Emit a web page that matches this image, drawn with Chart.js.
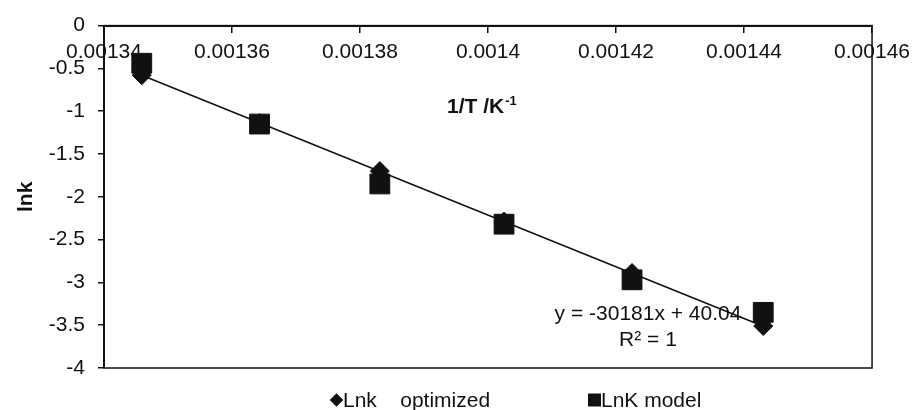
<!DOCTYPE html>
<html>
<head>
<meta charset="utf-8">
<script src="https://cdn.jsdelivr.net/npm/chart.js@4/dist/chart.umd.min.js"></script>
<style>
  html, body { margin: 0; padding: 0; background: #fff; }
  #wrap { width: 918px; height: 410px; position: relative; }
</style>
</head>
<body>
<div id="wrap"><canvas id="c"></canvas></div>
<script>
// ---- data ----
const invT = [0.0013459, 0.0013643, 0.0013831, 0.0014025, 0.0014225, 0.0014430];
const lnkOptimized = [-0.58, -1.14, -1.70, -2.29, -2.89, -3.51];
const lnkModel = [-0.44, -1.15, -1.85, -2.32, -2.97, -3.35];
const trendX = [0.0013459, 0.0014430];
const trendY = [-0.581, -3.511];
const seriesLabels = ['Lnk    optimized', 'LnK model'];
const xTitle = '1/T /K';
const xTitleSup = '-1';
const yTitle = 'lnk';
const equationLines = ['y = -30181x + 40.04', 'R\u00b2 = 1'];
const xMin = 0.00134, xMax = 0.00146, xStep = 0.00002;
const yMin = -4, yMax = 0, yStep = 0.5;

const FONT = "'Liberation Sans', Arial, sans-serif";
const INK = '#111111';

const toPts = (xs, ys) => xs.map((x, i) => ({x: x, y: ys[i]}));

const overlay = {
  id: 'overlay',
  beforeDatasetsDraw(chart) {
    const {ctx, chartArea: a} = chart;
    ctx.save();
    ctx.strokeStyle = INK;
    ctx.lineWidth = 1.5;
    ctx.strokeRect(a.left, a.top, a.right - a.left, a.bottom - a.top);
    ctx.restore();
  },
  afterDraw(chart) {
    const {ctx, chartArea: a} = chart;
    ctx.save();
    ctx.fillStyle = INK;
    // x-axis title inside plot
    ctx.font = 'bold 21px ' + FONT;
    ctx.textBaseline = 'alphabetic';
    ctx.textAlign = 'left';
    const tx = 447, ty = 113;
    ctx.fillText(xTitle, tx, ty);
    const w = ctx.measureText(xTitle).width;
    ctx.font = 'bold 13px ' + FONT;
    ctx.fillText(xTitleSup, tx + w + 1, ty - 8);
    // trendline equation
    ctx.font = '21px ' + FONT;
    ctx.textAlign = 'center';
    ctx.textBaseline = 'middle';
    ctx.fillText(equationLines[0], 648, 314);
    ctx.fillText(equationLines[1], 648, 340);
    // legend
    const items = [
      {style: 'rectRot', x: 336.5, tx: 343, r: 6.8, text: seriesLabels[0]},
      {style: 'rect', x: 594.5, tx: 601, r: 9.2, text: seriesLabels[1]}
    ];
    const ly = 400;
    items.forEach(it => {
      ctx.fillStyle = INK;
      ctx.strokeStyle = INK;
      ctx.beginPath();
      if (it.style === 'rectRot') {
        ctx.moveTo(it.x - it.r, ly);
        ctx.lineTo(it.x, ly - it.r);
        ctx.lineTo(it.x + it.r, ly);
        ctx.lineTo(it.x, ly + it.r);
        ctx.closePath();
      } else {
        const s = it.r * Math.SQRT1_2;
        ctx.rect(it.x - s, ly - s, 2 * s, 2 * s);
      }
      ctx.fill();
      ctx.font = '21px ' + FONT;
      ctx.textAlign = 'left';
      ctx.textBaseline = 'alphabetic';
      ctx.fillText(it.text, it.tx, 407);
    });
    ctx.restore();
  }
};

new Chart(document.getElementById('c'), {
  type: 'scatter',
  data: {
    datasets: [
      {
        type: 'line',
        label: 'trend',
        data: toPts(trendX, trendY),
        borderColor: INK,
        borderWidth: 1.6,
        pointRadius: 0,
        fill: false,
        order: 3
      },
      {
        label: seriesLabels[0],
        data: toPts(invT, lnkOptimized),
        pointStyle: 'rectRot',
        pointRadius: 9.5,
        backgroundColor: INK,
        borderColor: INK,
        borderWidth: 1,
        showLine: false,
        order: 2
      },
      {
        label: seriesLabels[1],
        data: toPts(invT, lnkModel),
        pointStyle: 'rect',
        pointRadius: 14,
        backgroundColor: INK,
        borderColor: INK,
        borderWidth: 1,
        showLine: false,
        order: 1
      }
    ]
  },
  options: {
    responsive: true,
    maintainAspectRatio: false,
    animation: false,
    layout: { padding: { left: 0, right: 41, top: 22, bottom: 42 } },
    plugins: {
      legend: { display: false },
      tooltip: { enabled: false }
    },
    scales: {
      x: {
        type: 'linear',
        position: { y: 0 },
        min: xMin,
        max: xMax,
        ticks: {
          stepSize: xStep,
          color: INK,
          font: { family: FONT, size: 21 },
          padding: 8,
          maxRotation: 0,
          autoSkip: false,
          callback: v => String(parseFloat(Number(v).toFixed(6)))
        },
        grid: { drawOnChartArea: false, drawTicks: true, tickLength: 6, color: INK, lineWidth: 1.5 },
        border: { display: true, color: INK, width: 2 }
      },
      y: {
        type: 'linear',
        position: 'left',
        min: yMin,
        max: yMax,
        afterFit: s => { s.width = 104; },
        ticks: {
          stepSize: yStep,
          color: INK,
          font: { family: FONT, size: 21 },
          padding: 13,
          callback: v => String(parseFloat(Number(v).toFixed(2)))
        },
        grid: { drawOnChartArea: false, drawTicks: true, tickLength: 6, color: INK, lineWidth: 1.5 },
        border: { display: true, color: INK, width: 2 },
        title: {
          display: true,
          text: yTitle,
          color: INK,
          font: { family: FONT, size: 21, weight: 'bold' },
          padding: { top: 14, bottom: 0 }
        }
      }
    }
  },
  plugins: [overlay]
});
</script>
</body>
</html>
